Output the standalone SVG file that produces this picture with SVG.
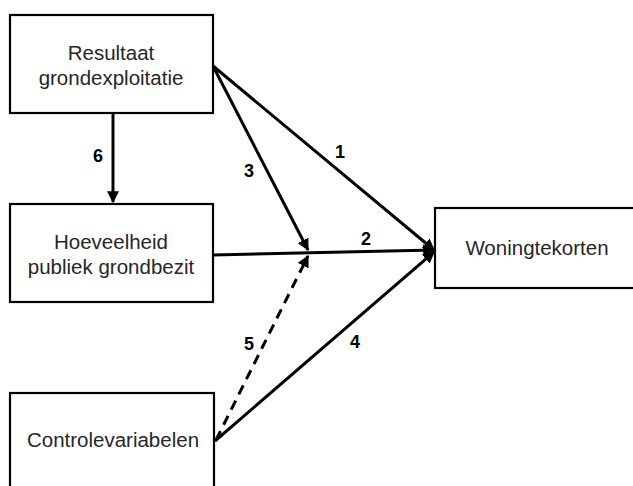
<svg xmlns="http://www.w3.org/2000/svg" width="633" height="486" viewBox="0 0 633 486">
<style>
.box{fill:#fff;stroke:#000;stroke-width:2.2}
.t{font-family:"Liberation Sans",Arial,sans-serif;font-size:20.5px;fill:#262626;text-anchor:middle}
.n{font-family:"Liberation Sans",Arial,sans-serif;font-size:18px;font-weight:bold;fill:#000;text-anchor:middle}
.c{stroke:#000;stroke-width:3;fill:none}
</style>
<defs>
<marker id="ah" viewBox="0 0 10 10" refX="9" refY="5" markerWidth="4" markerHeight="4" orient="auto" markerUnits="strokeWidth">
<path d="M0,0 L10,5 L0,10 z" fill="#000"/>
</marker>
</defs>
<rect width="633" height="486" fill="#fff"/>
<g id="n1"><rect class="box" x="10" y="15" width="203" height="98"/><text class="t" x="111" y="60">Resultaat</text><text class="t" x="111" y="85">grondexploitatie</text></g>
<g id="n2"><rect class="box" x="10" y="204" width="203" height="98"/><text class="t" x="111" y="249">Hoeveelheid</text><text class="t" x="111" y="274">publiek grondbezit</text></g>
<g id="n3"><rect class="box" x="10" y="393" width="204" height="100"/><text class="t" x="113" y="447">Controlevariabelen</text></g>
<g id="n4"><rect class="box" x="435" y="208" width="205" height="80"/><text class="t" x="537" y="255">Woningtekorten</text></g>
<g id="connectors">
<line class="c" x1="113" y1="113" x2="113" y2="202" marker-end="url(#ah)"/>
<line class="c" x1="213" y1="66" x2="434" y2="250" marker-end="url(#ah)"/>
<line class="c" x1="213" y1="66" x2="308" y2="250" marker-end="url(#ah)"/>
<line class="c" x1="213" y1="255" x2="434" y2="250" marker-end="url(#ah)"/>
<line class="c" x1="215" y1="441" x2="434" y2="252" marker-end="url(#ah)"/>
<line class="c" x1="216" y1="440" x2="308" y2="256" stroke-dasharray="10,7" marker-end="url(#ah)"/>
<text class="n" x="98" y="162">6</text>
<text class="n" x="340" y="158">1</text>
<text class="n" x="249" y="177">3</text>
<text class="n" x="366" y="245">2</text>
<text class="n" x="355" y="348">4</text>
<text class="n" x="249" y="350">5</text>
</g>
</svg>
